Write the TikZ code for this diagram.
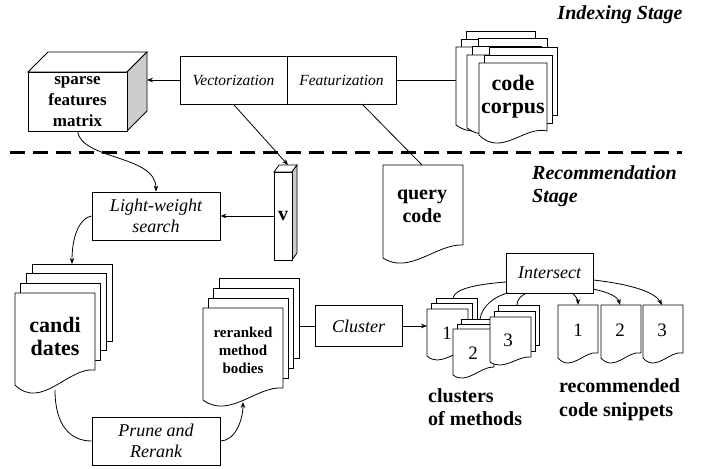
\documentclass[tikz,border=0pt]{standalone}
\usepackage{fontspec}
\setmainfont{Liberation Serif}
\usetikzlibrary{arrows.meta}
\newcommand\fsz[2]{\fontsize{#1}{#2}\selectfont}
% single document page: x, Y(top, px down), w, h, a (right rise), b (trough)
\newcommand\docpg[6]{%
  \pgfmathsetmacro\dpA{#5}\pgfmathsetmacro\dpB{#6}%
  \pgfmathsetmacro\dpC{2.38*\dpB+0.267*(\dpA+\dpB)+0.038*\dpA}%
  \pgfmathsetmacro\dpD{0.8*(\dpA+\dpB)}%
  \filldraw[pgs] (#1,-#2) -- ({#1+#3},-#2) -- ({#1+#3},{-(#2+#4-#5)})
    .. controls ({#1+0.67*#3},{-(#2+#4)+\dpD}) and ({#1+0.33*#3},{-(#2+#4)-\dpC}) ..
    (#1,{-(#2+#4)}) -- cycle;}
% multi document: x Y w h a b dx dy list-of-back-indices
\newcommand\mdoc[9]{%
  \foreach \k in {#9}{\filldraw[pgs] ({#1+\k*#7},{-(#2-\k*#8)}) rectangle ++(#3,{-(#4-#5)});}%
  \docpg{#1}{#2}{#3}{#4}{#5}{#6}}
\tikzset{
  pgs/.style={fill=white,draw=black,line width=0.8pt},
  bx/.style={draw=black,line width=0.8pt,inner sep=0pt,align=center,fill=white},
  ibx/.style={bx,font=\fsz{18}{21}\itshape},
  arr/.style={-{Stealth[length=6pt,width=4.5pt]},line width=0.8pt},
  ln/.style={line width=0.8pt},
  big/.style={font=\fsz{22}{23}\bfseries,align=center,inner sep=0pt},
  lbl/.style={font=\fsz{20}{23}\bfseries,align=left,inner sep=0pt,anchor=west},
}
\begin{document}
\begin{tikzpicture}[x=1pt,y=1pt]
\useasboundingbox (0,0) rectangle (706,-468);

% ---------- stage labels and separator ----------
\node[font=\fsz{20}{23}\bfseries\itshape,inner sep=0pt] (idx) at (620,-15) {Indexing Stage};
\node[lbl,font=\fsz{20}{23}\bfseries\itshape] (rec) at (532,-186.5) {Recommendation\\Stage};
\coordinate (dl) at (10,-152);
\coordinate (dr) at (682,-152);
\draw[line width=3pt,dash pattern=on 15pt off 8pt] (dl) -- (dr);

% ---------- sparse features matrix (cuboid) ----------
\filldraw[fill=white,line width=0.8pt] (28,-72) -- (48,-52) -- (147,-52) -- (127,-72) -- cycle;
\filldraw[fill=black!20,line width=0.8pt] (127,-72) -- (147,-52) -- (147,-111) -- (127,-131) -- cycle;
\node[bx,minimum width=99,minimum height=59,font=\fsz{17}{21}\bfseries] (spm) at (77.5,-101.5) {sparse\\features\\matrix};
\coordinate (spmR) at (147,-80);

% ---------- vectorization / featurization ----------
\node[bx,minimum width=107,minimum height=48,font=\fsz{15.5}{18}\itshape] (vec) at (233.5,-80) {Vectorization};
\node[bx,minimum width=109,minimum height=48,font=\fsz{15.5}{18}\itshape] (feat) at (341.5,-80) {Featurization};

% ---------- code corpus ----------
\mdoc{456}{47}{69}{78}{4}{6}{5}{8}{2,1}
\mdoc{467}{55}{69}{73}{4}{6}{5.5}{8.5}{2,1}
\mdoc{479}{63}{68}{72}{4}{8}{5}{8}{2,1}
\node[big] (corpus) at (513,-96.5) {code\\corpus};
\coordinate (corpusL) at (456,-80);

% ---------- query code ----------
\docpg{383}{165}{80}{93}{13}{5}
\node[big,font=\fsz{20}{23}\bfseries] (query) at (422,-206.5) {query\\code};
\coordinate (queryT) at (422,-165);
\coordinate (featB) at (362,-104);

% ---------- v bar ----------
\filldraw[fill=white,line width=0.8pt] (274,-172) -- (279,-165) -- (297,-165) -- (292,-172) -- cycle;
\filldraw[fill=black!20,line width=0.8pt] (292,-172) -- (297,-165) -- (297,-253) -- (292,-260) -- cycle;
\node[bx,minimum width=18,minimum height=88,font=\fsz{20}{22}\bfseries] (vv) at (283,-216) {v};
\coordinate (vtop) at (288,-165);

% ---------- light-weight search ----------
\node[ibx,minimum width=128,minimum height=48] (lws) at (156,-216) {Light-weight\\search};

% ---------- candidates ----------
\mdoc{15}{293}{80}{92}{15}{8}{5.7}{9.7}{3,2,1}
\node[big] (cand) at (55,-336.5) {candi\\dates};
\coordinate (candT) at (72,-264);
\coordinate (candB) at (55,-390);

% ---------- prune and rerank ----------
\node[ibx,minimum width=128,minimum height=48] (prune) at (156,-441) {Prune and\\Rerank};

% ---------- reranked method bodies ----------
\mdoc{203}{308}{80}{92}{12}{6}{5.3}{10}{3,2,1}
\node[big,font=\fsz{15}{18}\bfseries] (rer) at (243,-350) {reranked\\method\\bodies};
\coordinate (rerB) at (243,-402);
\coordinate (rerR) at (299,-326);

% ---------- cluster ----------
\node[ibx,minimum width=87,minimum height=41] (clu) at (358.5,-326) {Cluster};

% ---------- clusters of methods ----------
\mdoc{427}{309}{41}{47}{4}{4}{4.5}{5.5}{2,1}
\node[font=\fsz{19}{21},inner sep=0pt] (n1) at (447,-333) {1};
\mdoc{453}{329}{41}{46}{8}{3}{4}{5}{2,1}
\node[font=\fsz{19}{21},inner sep=0pt] (n2) at (473,-353) {2};
\mdoc{490}{317}{41}{45}{5}{3}{4}{6}{2,1}
\node[font=\fsz{19}{21},inner sep=0pt] (n3) at (508,-340) {3};
\coordinate (c1L) at (427,-326);
\coordinate (c1T) at (453,-298);
\coordinate (c2T) at (480,-319);
\coordinate (c3T) at (517,-305);
\node[lbl] (clab) at (428,-407) {clusters\\of methods};

% ---------- intersect ----------
\node[ibx,minimum width=87,minimum height=40] (int) at (549.5,-273) {Intersect};
\coordinate (iA) at (506,-282);
\coordinate (iB) at (508,-293);
\coordinate (iC) at (527,-293);
\coordinate (iD) at (572,-293);
\coordinate (iE) at (593,-289);
\coordinate (iF) at (593,-280);

% ---------- recommended snippets ----------
\docpg{558}{305}{40}{53}{5}{5}
\docpg{601}{305}{40}{53}{5}{5}
\docpg{643}{305}{40}{53}{5}{5}
\node[font=\fsz{19}{21},inner sep=0pt] (s1) at (578,-330) {1};
\node[font=\fsz{19}{21},inner sep=0pt] (s2) at (620,-330) {2};
\node[font=\fsz{19}{21},inner sep=0pt] (s3) at (662,-330) {3};
\coordinate (s1T) at (578,-305);
\coordinate (s2T) at (620,-305);
\coordinate (s3T) at (662,-305);
\node[lbl,font=\fsz{20}{24}\bfseries] (rlab) at (559,-400) {recommended\\code snippets};

% ---------- connectors ----------
\draw[arr] (vec.west) -- (spmR);
\draw[ln] (feat.east) -- (corpusL);
\draw[arr] (vec.south) -- (vtop);
\draw[ln] (featB) -- (queryT);
\draw[arr] (vv.west) -- (lws.east);
\draw[arr] (spm.south) .. controls (82,-160) and (156,-155) .. (lws.north);
\draw[arr] (lws.west) .. controls (80,-218) and (72,-235) .. (candT);
\draw[ln] (candB) .. controls (55,-425) and (70,-441) .. (prune.west);
\draw[arr] (prune.east) .. controls (235,-441) and (243,-420) .. (rerB);
\draw[ln] (rerR) -- (clu.west);
\draw[arr] (clu.east) -- (c1L);
\draw[ln] (iA) .. controls (480,-284) and (455,-288) .. (c1T);
\draw[ln] (iB) .. controls (495,-296) and (482,-306) .. (c2T);
\draw[ln] (iC) .. controls (521,-295) and (517,-300) .. (c3T);
\draw[arr] (iD) .. controls (576,-296) and (578,-300) .. (s1T);
\draw[arr] (iE) .. controls (608,-292) and (618,-297) .. (s2T);
\draw[arr] (iF) .. controls (630,-284) and (655,-292) .. (s3T);
\end{tikzpicture}
\end{document}
